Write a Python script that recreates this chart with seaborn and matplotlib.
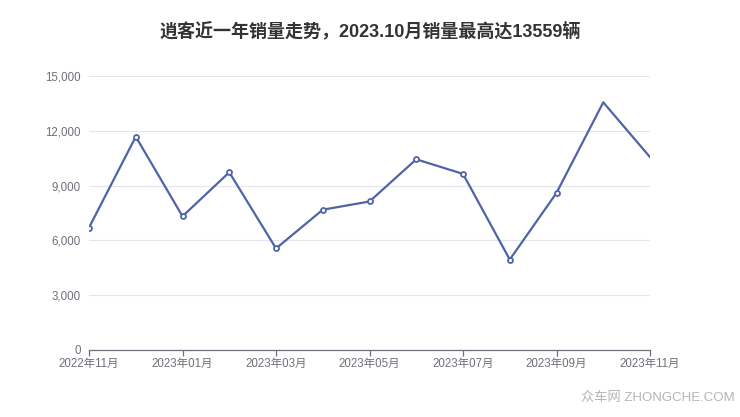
import matplotlib
matplotlib.use('Agg')
import pandas as pd
import matplotlib.pyplot as plt
import seaborn as sns
from matplotlib.ticker import FuncFormatter

# Monthly sales data
months = ['2022年11月', '2022年12月', '2023年01月', '2023年02月', '2023年03月',
          '2023年04月', '2023年05月', '2023年06月', '2023年07月', '2023年08月',
          '2023年09月', '2023年10月', '2023年11月']
sales = [6700, 11680, 7320, 9730, 5560, 7680, 8130, 10440, 9640, 4950,
         8600, 13559, 10560]
y_ticks = [0, 3000, 6000, 9000, 12000, 15000]

LINE_COLOR = '#4f64a7'
TEXT_COLOR = '#6e7079'

sns.set_theme(style="white")
plt.rcParams['font.family'] = ['Liberation Sans', 'Noto Sans CJK SC', 'DejaVu Sans']

df = pd.DataFrame({'idx': range(len(months)), 'month': months, 'sales': sales})

fig = plt.figure(figsize=(7.4, 4.17), dpi=100)
ax = fig.add_axes([0.1203, 0.1607, 0.7581, 0.657])

sns.lineplot(data=df, x='idx', y='sales', ax=ax, color=LINE_COLOR, linewidth=1.6)
# markers on all points except the last two
marked = df.iloc[:-2]
ax.plot(marked['idx'], marked['sales'], linestyle='none', marker='o', markersize=3.6,
        markerfacecolor='white', markeredgecolor=LINE_COLOR, markeredgewidth=1.3, zorder=3)

ax.set_xlim(0, len(months) - 1)
ax.set_ylim(0, 15000)
ax.set_yticks(y_ticks)
ax.yaxis.set_major_formatter(FuncFormatter(lambda v, p: f'{int(v):,}'))
ax.set_xticks(df['idx'][::2])
ax.set_xticklabels(df['month'][::2])

ax.grid(axis='y', color='#e4e6ec', linewidth=0.8)
ax.set_axisbelow(True)
for side in ['top', 'right', 'left']:
    ax.spines[side].set_visible(False)
ax.spines['bottom'].set_color(TEXT_COLOR)
ax.spines['bottom'].set_linewidth(0.9)
ax.tick_params(axis='x', colors=TEXT_COLOR, labelsize=8.3, length=4, width=0.9,
               direction='out', bottom=True, pad=1.5)
ax.tick_params(axis='y', colors=TEXT_COLOR, labelsize=8.3, length=0, pad=6)
for lbl in ax.get_xticklabels() + ax.get_yticklabels():
    lbl.set_color(TEXT_COLOR)
ax.set_xlabel('')
ax.set_ylabel('')

fig.text(0.5, 0.925, '逍客近一年销量走势，2023.10月销量最高达13559辆', ha='center', va='center',
         fontsize=13, fontweight='bold', color='#333333')
fig.text(0.993, 0.045, '众车网 ZHONGCHE.COM', ha='right', va='center',
         fontsize=9.5, color='#b5b5b5')

fig.savefig('out.png', dpi=100)
